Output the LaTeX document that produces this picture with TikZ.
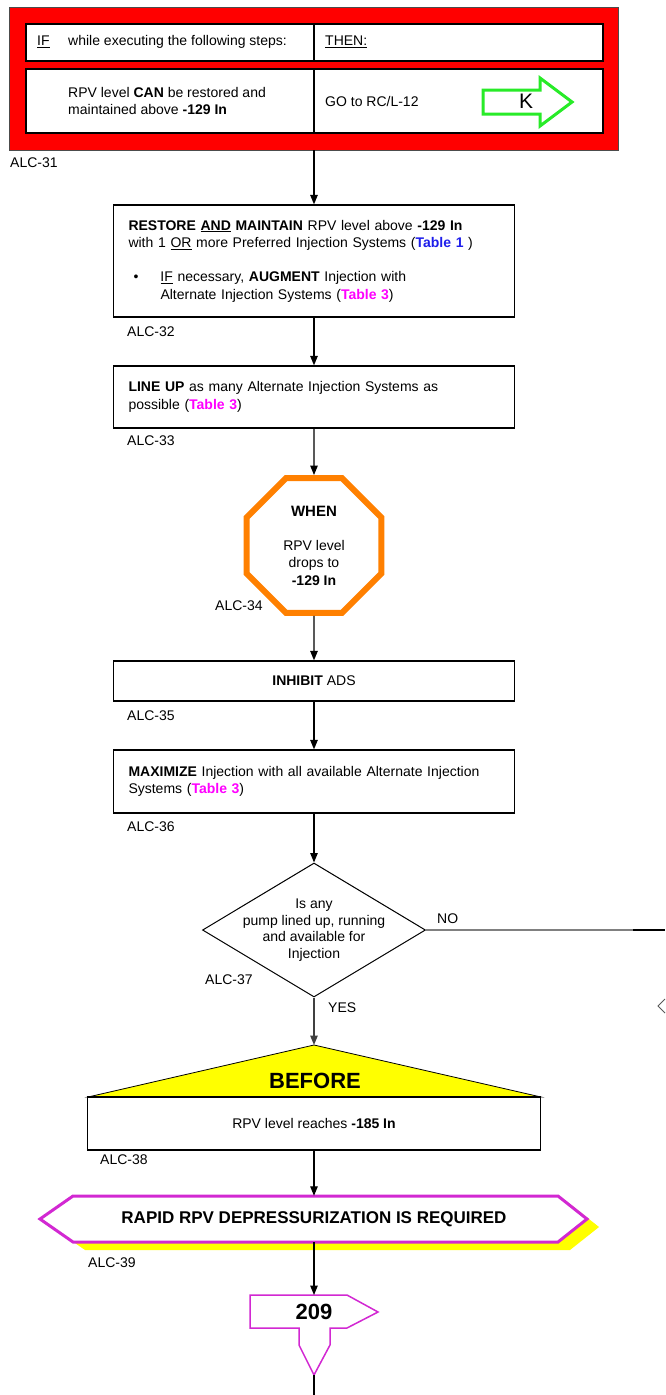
\documentclass[tikz,border=0pt]{standalone}
\usepackage{fontspec}
\setmainfont{Liberation Sans}
\usetikzlibrary{arrows.meta,shapes.geometric}
\definecolor{alarmred}{RGB}{255,0,0}
\definecolor{kgreen}{RGB}{40,235,40}
\definecolor{waitorange}{RGB}{255,128,0}
\definecolor{signyellow}{RGB}{255,255,0}
\definecolor{exitmagenta}{RGB}{210,40,210}
\definecolor{tblblue}{RGB}{30,30,235}
\definecolor{tblmagenta}{RGB}{255,0,255}

\begin{document}
\begin{tikzpicture}[x=1pt,y=-1pt,
  every node/.style={font=\fontsize{14}{17.5}\selectfont},
  box/.style={draw, line width=1.3pt, fill=white, minimum width=401pt,
    text width=371pt, inner xsep=15pt, inner ysep=0pt, align=left},
  cbox/.style={draw, line width=1.3pt, fill=white, inner sep=0pt, align=center},
  cell/.style={draw, line width=1.3pt, fill=white, inner sep=0pt},
  lbl/.style={anchor=west, inner sep=0pt},
  flow/.style={line width=1.2pt, -{Triangle[width=7.5pt,length=9.5pt]}},
  plain/.style={line width=1.2pt},
]
\fill[white] (0,0) rectangle (665,1395);
\useasboundingbox (0,0) rectangle (665,1395);

% ---- IF / THEN alarm table ----
\node[draw=black!70, fill=alarmred, line width=0.8pt, minimum width=609pt,
      minimum height=143pt, inner sep=0pt] (alarm) at (314,78.5) {};
\node[cell, minimum width=288pt, minimum height=37pt] (ifcell) at (170,42.5) {};
\node[cell, minimum width=289pt, minimum height=37pt] (thencell) at (458.5,42.5) {};
\node[cell, minimum width=288pt, minimum height=64pt] (condcell) at (170,101) {};
\node[cell, minimum width=289pt, minimum height=64pt] (gocell) at (458.5,101) {};
\node[lbl] (iftxt) at (37,42) {\makebox[31pt][l]{\underline{IF}}while executing the following steps:};
\node[lbl] (thentxt) at (325,42) {\underline{THEN:}};
\node[lbl, align=left] (condtxt) at (68,101) {RPV level \textbf{CAN} be restored and\\maintained above \textbf{-129 In}};
\node[lbl] (gotxt) at (325,101) {GO to RC/L-12};
\draw[kgreen, line width=3pt, line join=miter, fill=white]
  (483,90) -- (540,90) -- (540,78) -- (572,102) -- (540,126) -- (540,114) -- (483,114) -- cycle;
\node[font=\fontsize{21}{24}\selectfont] (ktag) at (526,101) {K};
\node[lbl] (alc31) at (10,163) {ALC-31};

% ---- action steps ----
\node[box, minimum height=112pt] (restore) at (314,261)
  {\textbf{RESTORE \underline{AND} MAINTAIN} RPV level above \textbf{-129 In}\\
   with 1 \underline{OR} more Preferred Injection Systems ({\color{tblblue}\textbf{Table 1}} )\\[16.5pt]
   \hspace*{5pt}\makebox[27pt][l]{\textbullet}\underline{IF} necessary, \textbf{AUGMENT} Injection with\\
   \hspace*{32pt}Alternate Injection Systems ({\color{tblmagenta}\textbf{Table 3}})};
\node[lbl] (alc32) at (127,332) {ALC-32};

\node[box, minimum height=62pt] (lineup) at (314,397)
  {\textbf{LINE UP} as many Alternate Injection Systems as\\
   possible ({\color{tblmagenta}\textbf{Table 3}})};
\node[lbl] (alc33) at (127,441) {ALC-33};

\node[regular polygon, regular polygon sides=8, minimum size=146pt, draw=waitorange,
      line width=6pt, fill=white, inner sep=0pt, align=center] (when) at (314,545.5)
  {{\fontsize{15}{18}\selectfont\textbf{WHEN}}\\[16.5pt]RPV level\\drops to\\\textbf{-129 In}};
\node[lbl] (alc34) at (215,606) {ALC-34};

\node[cbox, minimum width=401pt, minimum height=40pt] (inhibit) at (314,681) {\textbf{INHIBIT} ADS};
\node[lbl] (alc35) at (127,716) {ALC-35};

\node[box, minimum height=63pt] (maximize) at (314,781.5)
  {\textbf{MAXIMIZE} Injection with all available Alternate Injection\\
   Systems ({\color{tblmagenta}\textbf{Table 3}})};
\node[lbl] (alc36) at (127,827) {ALC-36};

% ---- decision ----
\node[diamond, draw, line width=1pt, minimum width=223pt, minimum height=134pt,
      inner sep=0pt, fill=white] (pump) at (314,930) {};
\node[align=center, font=\fontsize{14}{16.7}\selectfont] (pumpq) at (314,930)
  {Is any\\pump lined up, running\\and available for\\Injection};
\node[lbl] (alc37) at (205,980) {ALC-37};
\node[lbl] (nolbl) at (437,919) {NO};
\node[lbl] (yeslbl) at (328,1008) {YES};
\coordinate (nodark) at (633,930);
\coordinate (noend) at (665,930);
\draw[black!65, line width=0.8pt] (665,999) -- (658,1006) -- (665,1013);

% ---- BEFORE condition ----
\coordinate (apex) at (314,1045);
\draw[fill=signyellow, line width=0.8pt] (apex) -- (541,1097) -- (88,1097) -- cycle;
\node[font=\fontsize{22}{26}\selectfont\bfseries] (beforetxt) at (315,1081) {BEFORE};
\node[cbox, minimum width=453pt, minimum height=53pt] (reach) at (314,1123.5)
  {RPV level reaches \textbf{-185 In}};
\node[lbl] (alc38) at (100,1160) {ALC-38};

% ---- rapid depressurization banner ----
\fill[signyellow] (52,1227) -- (85,1204) -- (570,1204) -- (599,1227) -- (570,1250) -- (85,1250) -- cycle;
\draw[exitmagenta, line width=3pt, fill=white, line join=miter]
  (40,1219) -- (73,1196) -- (558,1196) -- (587,1219) -- (558,1242) -- (73,1242) -- cycle;
\node[minimum width=545pt, minimum height=46pt, inner sep=0pt,
      font=\fontsize{17}{20}\selectfont\bfseries] (rapid) at (314,1219)
  {RAPID RPV DEPRESSURIZATION IS REQUIRED};
\node[lbl] (alc39) at (88,1263) {ALC-39};

% ---- off-page connector 209 ----
\coordinate (gotop) at (314,1295);
\coordinate (gotip) at (314,1375);
\coordinate (pageend) at (314,1395);
\draw[exitmagenta, line width=1.5pt, fill=white]
  (250,1295) -- (347,1295) -- (378,1312) -- (347,1328) -- (330,1328) -- (330,1345)
  -- (gotip) -- (299,1345) -- (299,1328) -- (250,1328) -- cycle;
\node[font=\fontsize{22}{26}\selectfont\bfseries] (jump209) at (314,1312) {209};

% ---- connectors ----
\draw[flow] (alarm.south) -- (restore.north);
\draw[flow] (restore.south) -- (lineup.north);
\draw[flow] (lineup.south) -- (when.north);
\draw[flow] (when.south) -- (inhibit.north);
\draw[flow] (inhibit.south) -- (maximize.north);
\draw[flow] (maximize.south) -- (pump.north);
\draw[plain, black!50] (pump.east) -- (nodark);
\draw[plain] (nodark) -- (noend);
\draw[flow, black!75] (pump.south) -- (apex);
\draw[flow] (reach.south) -- (rapid.north);
\draw[flow] (rapid.south) -- (gotop);
\draw[plain] (gotip) -- (pageend);
\end{tikzpicture}
\end{document}
